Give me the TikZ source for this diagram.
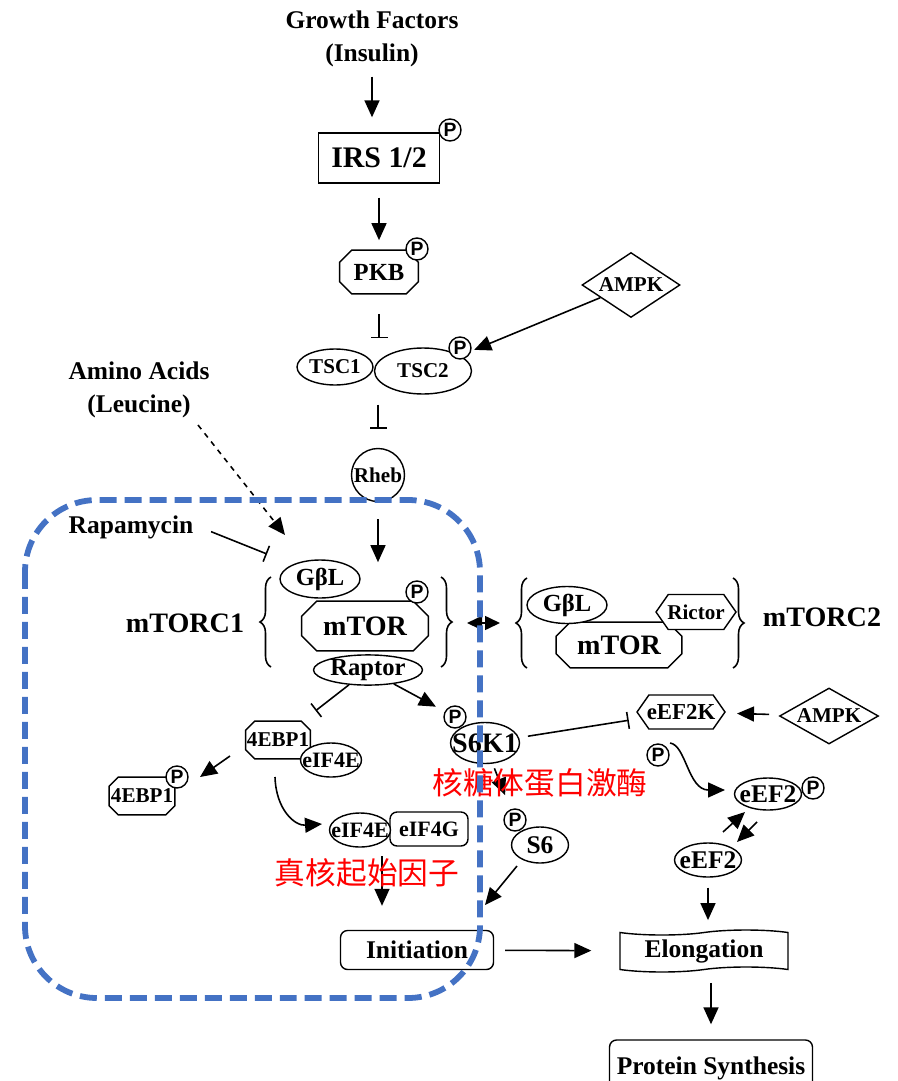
\documentclass[tikz,border=0pt]{standalone}
\usepackage{fontspec}
\setmainfont{Liberation Serif}
\newfontfamily\pfont{Liberation Sans}
\newfontfamily\cjk{Noto Sans CJK SC}
\usepackage{tikz}
\usetikzlibrary{arrows.meta,shapes.geometric,shapes.symbols,decorations.pathreplacing}
\definecolor{boxblue}{HTML}{4472C4}
\newcommand{\fsz}[1]{\bfseries\fontsize{#1}{18.7}\selectfont}
\newcommand{\zw}[1]{\makebox[0pt]{#1}}
\newcommand{\octo}[2]{\draw[line width=0.8pt] ([xshift=#2]#1.north west) -- ([xshift=-#2]#1.north east) -- ([yshift=-#2]#1.north east) -- ([yshift=#2]#1.south east) -- ([xshift=-#2]#1.south east) -- ([xshift=#2]#1.south west) -- ([yshift=#2]#1.south west) -- ([yshift=-#2]#1.north west) -- cycle;}
\tikzstyle{arrow}=[draw=black, line width=0.9pt, -{Triangle[length=0.34cm, width=0.3cm]}]
\tikzstyle{block}=[draw=black, line width=0.9pt, -{Bar[width=0.34cm]}]
\tikzstyle{pp}=[draw, circle, line width=0.8pt, fill=white, inner sep=0pt, minimum size=0.44cm, font=\pfont\bfseries\fontsize{11}{11}\selectfont]
\tikzstyle{oval}=[draw, ellipse, line width=0.8pt, fill=white, inner sep=0pt]
\tikzstyle{octa}=[rectangle, inner sep=0pt]
\tikzstyle{hexa}=[draw, signal, signal to=east and west, signal pointer angle=110, line width=0.8pt, fill=white, inner sep=0pt]
\tikzstyle{dia}=[draw, diamond, line width=0.8pt, fill=white, inner sep=0pt]
\tikzstyle{rbox}=[draw, rectangle, rounded corners=4pt, line width=0.8pt, fill=white, inner sep=0pt]
\tikzstyle{cn}=[text=red, font=\cjk\fontsize{17.5}{17.5}\selectfont, inner sep=0pt]
\tikzstyle{brc}=[decorate, decoration={brace, amplitude=0.22cm}, line width=0.9pt]
\begin{document}
\begin{tikzpicture}[x=0.02cm, y=-0.02cm]
\useasboundingbox (0,0) rectangle (897,1081);
\node[font=\fsz{14.5}, align=center] (gf) at (372,39) {Growth Factors\\(Insulin)};
\node[draw, line width=0.8pt, minimum width=2.42cm, minimum height=1cm, font=\fsz{17}] (irs) at (379,158) {IRS 1/2};
\node[pp] (pirs) at (450,130) {P};
\node[octa, minimum width=1.56cm, minimum height=0.86cm, font=\fsz{14}] (pkb) at (379,272) {\zw{PKB}};
\octo{pkb}{0.24cm}
\node[pp] (ppkb) at (417,249) {P};
\node[dia, minimum width=1.96cm, minimum height=1.3cm, font=\fsz{12}] (ampka) at (631,285) {\zw{AMPK}};
\node[oval, minimum width=1.52cm, minimum height=0.72cm, font=\fsz{12}] (tsca) at (335,367) {\zw{TSC1}};
\node[oval, minimum width=1.94cm, minimum height=0.92cm, font=\fsz{12}] (tscb) at (423,371) {\zw{TSC2}};
\node[pp] (ptsc) at (460,348) {P};
\node[draw, circle, line width=0.8pt, inner sep=0pt, minimum size=1.06cm, font=\fsz{12}] (rheb) at (378,475) {\zw{Rheb}};
\node[font=\fsz{14.5}, align=center] (aa) at (139,390) {Amino Acids\\(Leucine)};
\node[font=\fsz{14.5}] (rapa) at (131,527) {Rapamycin};
\coordinate (aat) at (285,535);
\coordinate (rapt) at (267,554);

\node[font=\fsz{16}] (lca) at (185,623) {mTORC1};
\node[octa, minimum width=2.52cm, minimum height=0.98cm, font=\fsz{16}] (mtora) at (365,626) {\zw{mTOR}};
\octo{mtora}{0.3cm}
\node[oval, minimum width=1.6cm, minimum height=0.76cm, font=\fsz{14}] (gbla) at (320,579) {\zw{GβL}};
\node[oval, minimum width=2.18cm, minimum height=0.6cm, font=\fsz{14}] (raptor) at (368,670) {\zw{Raptor}};
\node[pp] (pmtor) at (417,592) {P};
\draw[brc] (271,667) -- (271,577);
\draw[brc] (441,577) -- (441,667);
\coordinate (ca) at (467,623);
\coordinate (cb) at (500,623);
\node[octa, minimum width=2.5cm, minimum height=0.9cm, font=\fsz{16}] (mtorb) at (619,645) {\zw{mTOR}};
\octo{mtorb}{0.28cm}
\node[oval, minimum width=1.6cm, minimum height=0.74cm, font=\fsz{14}] (gblb) at (567,605) {\zw{GβL}};
\node[hexa, minimum width=1.6cm, minimum height=0.7cm, font=\fsz{12}] (rictor) at (696,612) {\zw{Rictor}};
\draw[brc] (527,668) -- (527,578);
\draw[brc] (733,578) -- (733,668);
\node[font=\fsz{16}] (lcb) at (822,617) {mTORC2};

\node[octa, minimum width=1.28cm, minimum height=0.74cm, font=\fsz{12}] (ebpa) at (278,740) {\zw{4EBP1}};
\octo{ebpa}{0.18cm}
\node[oval, minimum width=1.22cm, minimum height=0.68cm, font=\fsz{12.5}] (eifa) at (331,760) {\zw{eIF4E}};
\node[octa, minimum width=1.3cm, minimum height=0.74cm, font=\fsz{12}] (ebpb) at (142,796) {\zw{4EBP1}};
\octo{ebpb}{0.18cm}
\node[pp] (pebp) at (177,777) {P};
\node[rbox, minimum width=1.56cm, minimum height=0.68cm, font=\fsz{12.5}] (eifg) at (429,829) {eIF4G};
\node[oval, minimum width=1.22cm, minimum height=0.68cm, font=\fsz{12.5}] (eifb) at (360,830) {\zw{eIF4E}};

\node[oval, minimum width=1.38cm, minimum height=0.82cm, font=\fsz{16}] (s6k) at (485,743) {\zw{S6K1}};
\node[pp] (ps6k) at (455,717) {P};
\node[oval, minimum width=1.14cm, minimum height=0.72cm, font=\fsz{14.5}] (s6) at (540,845) {\zw{S6}};
\node[pp] (ps6) at (515,820) {P};
\node[hexa, minimum width=1.76cm, minimum height=0.68cm, font=\fsz{13}] (eefk) at (681,712) {\zw{eEF2K}};
\node[dia, minimum width=1.98cm, minimum height=1.12cm, font=\fsz{12}] (ampkb) at (829,716) {\zw{AMPK}};
\node[pp] (peefk) at (658,755) {P};
\node[oval, minimum width=1.34cm, minimum height=0.64cm, font=\fsz{14.5}] (eefa) at (768,794) {\zw{eEF2}};
\node[pp] (peef) at (813,788) {P};
\node[oval, minimum width=1.34cm, minimum height=0.68cm, font=\fsz{14.5}] (eefb) at (708,860) {\zw{eEF2}};
\node[rbox, minimum width=3.06cm, minimum height=0.78cm, font=\fsz{14.5}] (init) at (417,950) {Initiation};
\node[draw, tape, tape bend top=in and out, tape bend bottom=in and out, tape bend height=0.1cm, line width=0.8pt, inner sep=0pt, minimum width=3.36cm, minimum height=0.84cm, font=\fsz{14.5}] (elong) at (704,951) {Elongation};
\node[rbox, minimum width=4.06cm, minimum height=1.12cm, font=\fsz{14.5}] (prot) at (711,1068) {Protein Synthesis};

\draw[arrow, shorten <=2pt, shorten >=0.3cm] (gf) -- (gf |- irs.north);
\draw[arrow, shorten <=0.28cm, shorten >=0.2cm] (irs) -- (pkb);
\draw[block, shorten <=0.4cm, shorten >=0.18cm] (pkb) -- (pkb |- tscb.north);
\draw[block, shorten <=0.2cm, shorten >=0.38cm] (rheb |- tscb.south) -- (rheb);
\draw[arrow, shorten >=0.3cm] (ampka) -- (tscb);
\draw[arrow, shorten <=0.34cm, shorten >=0.78cm] (rheb) -- (rheb |- mtora.north);
\draw[arrow, dashed] ([shift={(59,35)}]aa.center) -- (aat);
\draw[block, shorten <=0.25cm] (rapa.east) -- (rapt);
\draw[arrow, {Triangle[length=0.3cm, width=0.28cm]}-{Triangle[length=0.3cm, width=0.28cm]}] (ca) -- (cb);
\draw[block, shorten >=0.34cm] (raptor) -- (ebpa);
\draw[arrow, shorten >=0.2cm] (raptor) -- (ps6k);
\draw[arrow] ([shift={(-48,16)}]ebpa.center) -- ([shift={(58,-19)}]ebpb.center);
\draw[arrow] ([shift={(-3,37)}]ebpa.center) .. controls (276,810) and (295,826) .. ([shift={(-38,-6)}]eifb.center);
\draw[block, shorten <=0.18cm, shorten >=0.24cm] (s6k) -- (eefk);
\draw[arrow, shorten <=0.1cm, shorten >=0.3cm] (s6k.-70) -- (ps6);
\draw[arrow] ([shift={(-23,21)}]s6.center) -- ([shift={(68,-45)}]init.center);
\coordinate (cpx) at (382,856);
\draw[arrow, shorten >=0.48cm] (cpx) -- (cpx |- init.north);
\draw[arrow, shorten <=0.22cm, shorten >=0.56cm] (init) -- (elong);
\draw[arrow, shorten <=0.2cm, shorten >=0.24cm] (eefb) -- (eefb |- elong.north);
\draw[arrow, shorten <=0.26cm, shorten >=0.3cm] (prot |- elong.south) -- (prot);
\draw[arrow, shorten <=0.24cm, shorten >=0.24cm] (ampkb) -- (eefk);
\draw[arrow] ([shift={(-11,31)}]eefk.center) .. controls (686,745) and (688,790) .. ([shift={(-43,-4)}]eefa.center);
\draw[arrow] ([shift={(15,-28)}]eefb.center) -- ([shift={(-23,18)}]eefa.center);
\draw[arrow] ([shift={(-11,28)}]eefa.center) -- ([shift={(29,-18)}]eefb.center);

\node[cn] (cna) at (367,873) {真核起始因子};
\node[cn] (cnb) at (540,783) {核糖体蛋白激酶};
\draw[draw=boxblue, line width=3.3pt, dash pattern=on 0.34cm off 0.16cm, rounded corners=1.44cm] (25,500) rectangle (480,998);
\end{tikzpicture}
\end{document}
